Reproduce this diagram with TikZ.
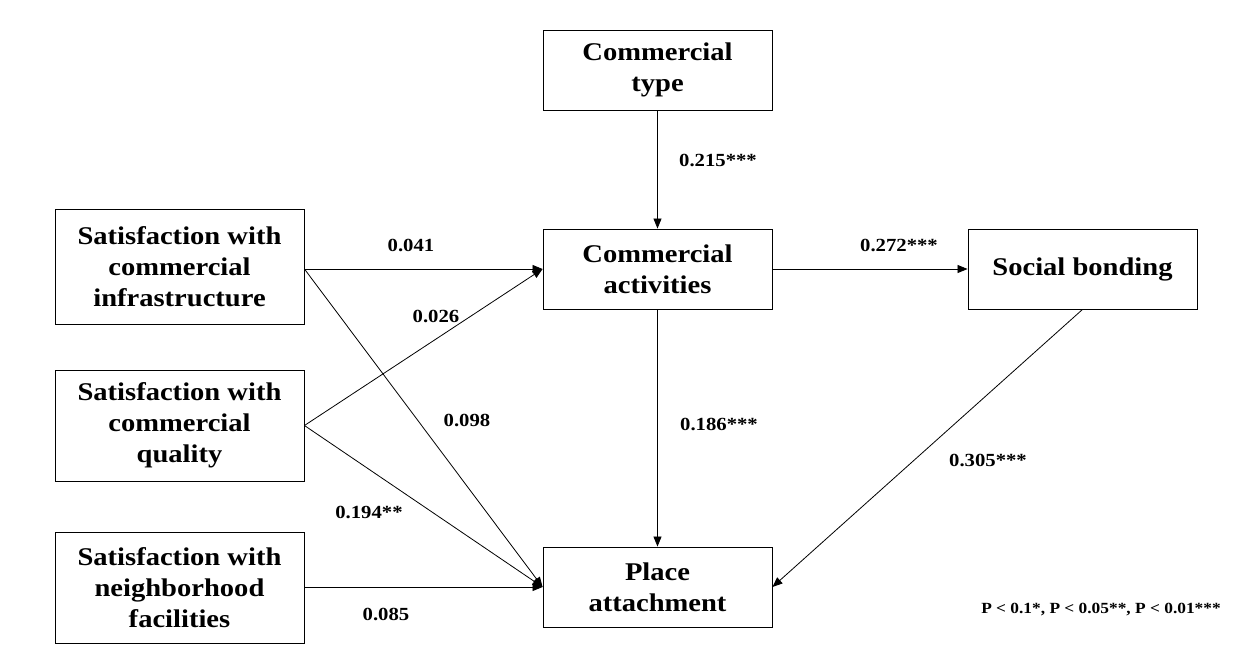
\documentclass[tikz,border=0pt]{standalone}
\usepackage{fontspec}
\setmainfont[FakeStretch=1.12]{Liberation Serif}
\usetikzlibrary{arrows.meta}
\begin{document}
\begin{tikzpicture}[x=1pt,y=-1pt,
  box/.style={draw,line width=0.9pt,fill=white,align=center,inner sep=0pt,
    font=\fontsize{25.5}{31}\selectfont\bfseries},
  lbl/.style={font=\fontsize{18.5}{20}\selectfont\bfseries},
  arr/.style={draw,line width=0.8pt,-{Triangle[length=10pt,width=8pt]}}]
\useasboundingbox (0,0) rectangle (1251,657);
\node[box,minimum width=229pt,minimum height=80pt] (ct) at (657.5,70) {Commercial\\type};
\node[box,minimum width=229pt,minimum height=80pt] (ca) at (657.5,269) {Commercial\\activities};
\node[box,minimum width=229pt,minimum height=80pt] (sb) at (1082.5,269) {Social bonding};
\node[box,minimum width=229pt,minimum height=80pt] (pa) at (657.5,587) {Place\\attachment};
\node[box,minimum width=249pt,minimum height=115pt] (si) at (179.5,266.5) {Satisfaction with\\commercial\\infrastructure};
\node[box,minimum width=249pt,minimum height=111pt] (sq) at (179.5,425.5) {Satisfaction with\\commercial\\quality};
\node[box,minimum width=249pt,minimum height=111pt] (sn) at (179.5,587.5) {Satisfaction with\\neighborhood\\facilities};
\coordinate (caw) at (ca.west);
\coordinate (paw) at (pa.west);
\draw[arr] (ct.south) -- (ca.north);
\draw[arr] (ca.south) -- (pa.north);
\draw[arr] (ca.east) -- (sb.west);
\draw[arr] (sb.south) -- (pa.east);
\draw[arr] (si.east |- caw) -- (caw);
\draw[arr] (sq.east) -- (caw);
\draw[arr] (si.east |- caw) -- (paw);
\draw[arr] (sq.east) -- (paw);
\draw[arr] (sn.east |- paw) -- (paw);
\node[lbl] (l1) at (718,160) {0.215***};
\node[lbl] (l2) at (411,245) {0.041};
\node[lbl] (l3) at (436,316) {0.026};
\node[lbl] (l4) at (467,420) {0.098};
\node[lbl] (l5) at (369,512) {0.194**};
\node[lbl] (l6) at (386,614) {0.085};
\node[lbl] (l7) at (719,424) {0.186***};
\node[lbl] (l8) at (899,245) {0.272***};
\node[lbl] (l9) at (988,460) {0.305***};
\node[font=\fontsize{15.5}{16}\selectfont\bfseries] (leg) at (1101,610) {P < 0.1*, P < 0.05**, P < 0.01***};
\end{tikzpicture}
\end{document}
